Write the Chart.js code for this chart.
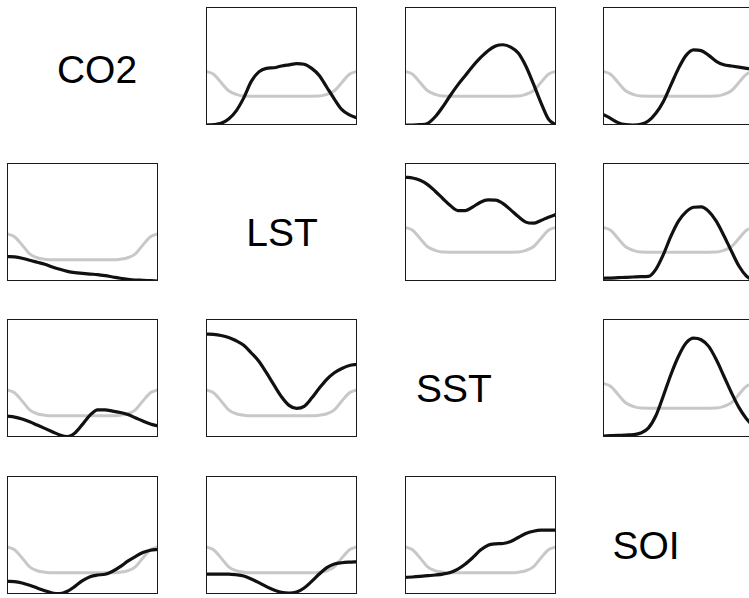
<!DOCTYPE html>
<html>
<head>
<meta charset="utf-8">
<script src="https://cdn.jsdelivr.net/npm/chart.js@4/dist/chart.umd.min.js"></script>
<style>
  html, body { margin: 0; padding: 0; background: #fff; overflow: hidden; }
  #grid { position: relative; width: 749px; height: 598px; }
  .panel { position: absolute; }
  .name {
    position: absolute;
    font-family: "Liberation Sans", Arial, sans-serif;
    font-size: 39px;
    color: #000;
    transform: translate(-50%, -50%);
    white-space: nowrap;
  }
</style>
</head>
<body>
<div id="grid"></div>
<script>
// variables sur la diagonale
const variables = ['CO2', 'LST', 'SST', 'SOI'];

// abscisses communes (position normalisée dans la saison)
const xGrid = [0, 0.05, 0.1, 0.15, 0.2, 0.25, 0.3, 0.35, 0.4, 0.45, 0.5,
               0.55, 0.6, 0.65, 0.7, 0.75, 0.8, 0.85, 0.9, 0.95, 1];

// courbe de référence (grise), triangle supérieur et inférieur
const grayUpper = [0.454, 0.43, 0.36, 0.29, 0.26, 0.245, 0.244, 0.244, 0.244, 0.244, 0.244,
                   0.244, 0.244, 0.244, 0.244, 0.245, 0.26, 0.29, 0.36, 0.43, 0.454];
const grayLower = [0.40, 0.375, 0.305, 0.23, 0.197, 0.185, 0.18, 0.18, 0.18, 0.18, 0.18,
                   0.18, 0.18, 0.18, 0.18, 0.185, 0.197, 0.23, 0.305, 0.375, 0.40];

// courbes noires, une par paire (ligne, colonne)
const co2Lst = [0, 0.003, 0.014, 0.05, 0.12, 0.23, 0.37, 0.45, 0.48, 0.485, 0.50,
                0.51, 0.52, 0.515, 0.48, 0.42, 0.32, 0.22, 0.13, 0.085, 0.06];
const co2Sst = [0, 0, 0.003, 0.014, 0.07, 0.154, 0.25, 0.34, 0.42, 0.50, 0.57,
                0.63, 0.67, 0.68, 0.66, 0.61, 0.50, 0.35, 0.19, 0.05, 0];
const co2Soi = [0.09, 0.056, 0.02, 0.003, 0, 0.006, 0.034, 0.10, 0.20, 0.34, 0.48,
                0.59, 0.636, 0.63, 0.59, 0.54, 0.51, 0.50, 0.49, 0.48, 0.47];
const lstCo2 = [0.207, 0.204, 0.193, 0.176, 0.159, 0.142, 0.119, 0.099, 0.082, 0.071, 0.065,
                0.059, 0.054, 0.045, 0.034, 0.023, 0.014, 0.008, 0.006, 0.003, 0];
const lstSst = [0.879, 0.873, 0.854, 0.817, 0.761, 0.699, 0.639, 0.597, 0.597, 0.628, 0.668,
                0.687, 0.685, 0.656, 0.603, 0.546, 0.499, 0.49, 0.513, 0.541, 0.563];
const lstSoi = [0.023, 0.025, 0.028, 0.031, 0.034, 0.037, 0.039, 0.099, 0.225, 0.38, 0.507,
                0.586, 0.625, 0.628, 0.59, 0.507, 0.386, 0.254, 0.127, 0.042, 0];
const sstCo2 = [0.177, 0.169, 0.152, 0.129, 0.101, 0.073, 0.045, 0.017, 0.003, 0.034, 0.107,
                0.185, 0.23, 0.23, 0.219, 0.208, 0.191, 0.163, 0.135, 0.11, 0.093];
const sstLst = [0.872, 0.869, 0.86, 0.844, 0.816, 0.777, 0.712, 0.642, 0.545, 0.441, 0.341,
                0.268, 0.243, 0.26, 0.33, 0.413, 0.489, 0.545, 0.581, 0.606, 0.615];
const sstSoi = [0.008, 0.011, 0.014, 0.017, 0.02, 0.034, 0.075, 0.18, 0.35, 0.53, 0.684,
                0.796, 0.838, 0.824, 0.768, 0.656, 0.517, 0.377, 0.251, 0.154, 0.084];
const soiCo2 = [0.108, 0.105, 0.093, 0.074, 0.051, 0.028, 0.008, 0.003, 0.023, 0.065, 0.113,
                0.147, 0.161, 0.167, 0.193, 0.232, 0.278, 0.317, 0.351, 0.371, 0.377];
const soiLst = [0.169, 0.169, 0.169, 0.169, 0.163, 0.152, 0.127, 0.096, 0.062, 0.034, 0.014,
                0.008, 0.017, 0.051, 0.107, 0.169, 0.223, 0.254, 0.265, 0.27, 0.273];
const soiSst = [0.141, 0.144, 0.149, 0.155, 0.161, 0.169, 0.183, 0.211, 0.254, 0.31, 0.372,
                0.414, 0.425, 0.428, 0.445, 0.479, 0.513, 0.532, 0.541, 0.541, 0.541];

const blackCurves = [
    [null,   co2Lst, co2Sst, co2Soi],
    [lstCo2, null,   lstSst, lstSoi],
    [sstCo2, sstLst, null,   sstSoi],
    [soiCo2, soiLst, soiSst, null]
];

// mise en page des cadres
const colLeft = [7, 206, 405, 603];
const rowTop = [7, 163, 319, 476];
const panelW = 151;
const panelH = 118;
const pad = 2;
const labelPos = [[97, 70], [282, 233], [454, 389], [646, 546]];

// cadre autour de la zone de tracé
const framePlugin = {
    id: 'frame',
    afterDraw(chart) {
        const a = chart.chartArea;
        const ctx = chart.ctx;
        ctx.save();
        ctx.strokeStyle = '#1a1a1a';
        ctx.lineWidth = 1;
        ctx.strokeRect(Math.round(a.left) + 0.5, Math.round(a.top) + 0.5,
                       Math.round(a.right - a.left) - 1, Math.round(a.bottom - a.top) - 1);
        ctx.restore();
    }
};

function toPoints(ys) {
    return xGrid.map((x, i) => ({ x: x, y: ys[i] }));
}

const grid = document.getElementById('grid');

for (let r = 0; r < 4; r++) {
    for (let c = 0; c < 4; c++) {
        if (r === c) {
            const lab = document.createElement('div');
            lab.className = 'name';
            lab.textContent = variables[r];
            lab.style.left = labelPos[r][0] + 'px';
            lab.style.top = labelPos[r][1] + 'px';
            grid.appendChild(lab);
            continue;
        }
        const box = document.createElement('div');
        box.className = 'panel';
        box.style.left = (colLeft[c] - pad) + 'px';
        box.style.top = (rowTop[r] - pad) + 'px';
        box.style.width = (panelW + 2 * pad) + 'px';
        box.style.height = (panelH + 2 * pad) + 'px';
        const canvas = document.createElement('canvas');
        box.appendChild(canvas);
        grid.appendChild(box);

        const gray = c > r ? grayUpper : grayLower;

        new Chart(canvas, {
            type: 'line',
            data: {
                datasets: [
                    {
                        data: toPoints(blackCurves[r][c]),
                        borderColor: '#111',
                        borderWidth: 3.2,
                        pointRadius: 0,
                        cubicInterpolationMode: 'monotone',
                        fill: false
                    },
                    {
                        data: toPoints(gray),
                        borderColor: '#c8c8c8',
                        borderWidth: 3,
                        pointRadius: 0,
                        cubicInterpolationMode: 'monotone',
                        fill: false
                    }
                ]
            },
            options: {
                responsive: true,
                maintainAspectRatio: false,
                animation: false,
                layout: { padding: pad },
                plugins: {
                    legend: { display: false },
                    tooltip: { enabled: false }
                },
                scales: {
                    x: { type: 'linear', min: 0, max: 1, display: false },
                    y: { min: 0, max: 1, display: false }
                }
            },
            plugins: [framePlugin]
        });
    }
}
</script>
</body>
</html>
